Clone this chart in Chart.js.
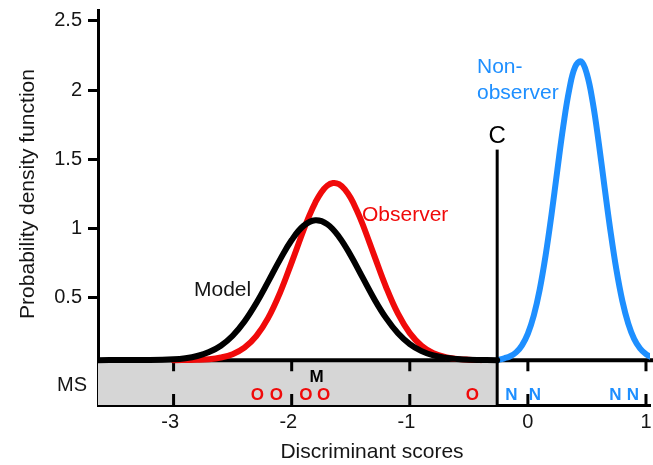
<!DOCTYPE html>
<html>
<head>
<meta charset="utf-8">
<script src="https://cdn.jsdelivr.net/npm/chart.js@4"></script>
<style>
  body { margin: 0; background: #fff; }
  #myChart { display: block; }
</style>
</head>
<body>
<canvas id="myChart" width="653" height="465"></canvas>
<script>
// density curves (x = discriminant score, y = density)
const modelX = [-3.64, -3.2, -3.0, -2.9, -2.8, -2.7, -2.6, -2.5, -2.4, -2.3, -2.2, -2.1, -2.0, -1.9, -1.8, -1.7, -1.6, -1.5, -1.4, -1.3, -1.2, -1.1, -1.0, -0.9, -0.8, -0.7, -0.6, -0.5, -0.26];
const modelY = [0.05, 0.051, 0.056, 0.064, 0.080, 0.108, 0.154, 0.226, 0.329, 0.461, 0.615, 0.774, 0.917, 1.019, 1.060, 1.032, 0.941, 0.805, 0.647, 0.490, 0.353, 0.244, 0.166, 0.115, 0.084, 0.067, 0.058, 0.053, 0.05];

const observerX = [-3.0, -2.8, -2.7, -2.6, -2.5, -2.4, -2.3, -2.2, -2.1, -2.0, -1.9, -1.85, -1.8, -1.75, -1.7, -1.65, -1.6, -1.55, -1.5, -1.45, -1.4, -1.3, -1.2, -1.1, -1.0, -0.9, -0.8, -0.7, -0.6, -0.5, -0.4];
const observerY = [0.05, 0.053, 0.057, 0.069, 0.093, 0.140, 0.223, 0.353, 0.534, 0.756, 0.988, 1.095, 1.188, 1.261, 1.309, 1.329, 1.321, 1.283, 1.220, 1.134, 1.033, 0.803, 0.576, 0.385, 0.245, 0.154, 0.100, 0.072, 0.059, 0.053, 0.05];

const nonObsX = [-0.25, -0.2, -0.15, -0.1, -0.05, 0.0, 0.05, 0.1, 0.15, 0.2, 0.25, 0.3, 0.35, 0.4, 0.45, 0.5, 0.55, 0.6, 0.65, 0.7, 0.75, 0.8, 0.85, 0.9, 0.95, 1.0, 1.05];
const nonObsY = [0.05, 0.063, 0.078, 0.106, 0.157, 0.242, 0.372, 0.559, 0.805, 1.101, 1.426, 1.741, 2.002, 2.167, 2.207, 2.115, 1.908, 1.618, 1.294, 0.978, 0.700, 0.477, 0.314, 0.203, 0.134, 0.093, 0.070];

// MS strip: individual scores and mean
const observerMS = [-2.29, -2.13, -1.88, -1.73, -0.47];
const nonObserverMS = [-0.14, 0.06, 0.74, 0.89];
const msMean = -1.79;
const cutoff = -0.26;
const cutoffTop = 1.57;

const xTicks = [-3, -2, -1, 0, 1];
const yTicks = [0.5, 1, 1.5, 2, 2.5];

const baseLevel = 0.05;
const RED = '#f00a0a';
const BLUE = '#1e8fff';
const FONT = 'Liberation Sans';
const INK = '#151515';

function toPoints(xs, ys) {
    let pts = [];
    for (let i = 0; i < xs.length; i++) {
        pts.push({x: xs[i], y: ys[i]});
    }
    return pts;
}

const stripPlugin = {
    id: 'stripPlugin',
    beforeDatasetsDraw(chart) {
        const {ctx, chartArea, scales} = chart;
        const x = scales.x, y = scales.y;
        const base = y.getPixelForValue(baseLevel);
        const cx = x.getPixelForValue(cutoff);
        ctx.save();
        ctx.fillStyle = '#d6d6d6';
        ctx.fillRect(chartArea.left, base, cx - chartArea.left, chartArea.bottom - base);

        ctx.strokeStyle = '#000';
        ctx.lineWidth = 4;
        ctx.beginPath();
        ctx.moveTo(chartArea.left, base);
        ctx.lineTo(chart.width, base);
        ctx.stroke();

        ctx.lineWidth = 3;
        xTicks.forEach(v => {
            const px = x.getPixelForValue(v);
            ctx.beginPath();
            ctx.moveTo(px, base);
            ctx.lineTo(px, base + 11);
            ctx.moveTo(px, chartArea.bottom);
            ctx.lineTo(px, chartArea.bottom - 11);
            ctx.stroke();
        });
        ctx.restore();
    },
    afterDatasetsDraw(chart) {
        const {ctx, chartArea, scales} = chart;
        const x = scales.x, y = scales.y;
        const cx = x.getPixelForValue(cutoff);
        ctx.save();

        // cutoff line C
        ctx.strokeStyle = '#000';
        ctx.lineWidth = 3;
        ctx.beginPath();
        ctx.moveTo(cx, y.getPixelForValue(cutoffTop));
        ctx.lineTo(cx, chartArea.bottom);
        ctx.stroke();

        ctx.textBaseline = 'middle';
        ctx.textAlign = 'center';
        ctx.fillStyle = '#000';
        ctx.font = '24px "' + FONT + '"';
        ctx.fillText('C', cx, 136);

        // curve labels
        ctx.textAlign = 'left';
        ctx.font = '21px "' + FONT + '"';
        ctx.fillStyle = RED;
        ctx.fillText('Observer', 362, 215);
        ctx.fillStyle = INK;
        ctx.fillText('Model', 194, 290);
        ctx.fillStyle = BLUE;
        ctx.fillText('Non-', 477, 67);
        ctx.fillText('observer', 477, 93);

        ctx.fillStyle = INK;
        ctx.font = '20px "' + FONT + '"';
        ctx.fillText('MS', 57, 385);

        // strip markers
        ctx.textAlign = 'center';
        ctx.font = 'bold 17px "' + FONT + '"';
        ctx.fillStyle = '#000';
        ctx.fillText('M', x.getPixelForValue(msMean), 377);
        ctx.fillStyle = RED;
        observerMS.forEach(v => ctx.fillText('O', x.getPixelForValue(v), 395));
        ctx.fillStyle = BLUE;
        nonObserverMS.forEach(v => ctx.fillText('N', x.getPixelForValue(v), 395));

        // x tick labels, digit centred on the tick
        ctx.fillStyle = INK;
        ctx.font = '20px "' + FONT + '"';
        xTicks.forEach(v => {
            const px = x.getPixelForValue(v);
            const digits = String(Math.abs(v));
            const w = ctx.measureText(digits).width;
            ctx.textAlign = 'center';
            ctx.fillText(digits, px, chartArea.bottom + 17);
            if (v < 0) {
                ctx.textAlign = 'right';
                ctx.fillText('-', px - w / 2, chartArea.bottom + 17);
            }
        });

        // axis titles
        ctx.font = '21px "' + FONT + '"';
        ctx.textAlign = 'center';
        ctx.fillText('Discriminant scores', 372, 452);
        ctx.translate(28, 194);
        ctx.rotate(-Math.PI / 2);
        ctx.fillText('Probability density function', 0, 0);
        ctx.restore();
    }
};

const data = {
    datasets: [
        {label: 'Model', data: toPoints(modelX, modelY), borderColor: '#000', order: 0},
        {label: 'Observer', data: toPoints(observerX, observerY), borderColor: RED, order: 1},
        {label: 'Non-observer', data: toPoints(nonObsX, nonObsY), borderColor: BLUE, order: 2}
    ]
};
data.datasets.forEach(d => {
    d.borderWidth = 6;
    d.pointRadius = 0;
    d.fill = false;
    d.tension = 0.4;
    d.borderCapStyle = 'round';
    d.borderJoinStyle = 'round';
});

const config = {
    type: 'line',
    data,
    options: {
        responsive: false,
        animation: false,
        devicePixelRatio: 1,
        layout: {padding: {top: 10, right: 3, left: 0, bottom: 0}},
        plugins: {legend: {display: false}, tooltip: {enabled: false}},
        scales: {
            x: {
                type: 'linear',
                min: -3.64,
                max: 1.034,
                grid: {display: false, drawTicks: false},
                border: {display: true, color: '#000', width: 3},
                ticks: {display: false},
                afterFit: s => { s.height = 60; }
            },
            y: {
                min: -0.274,
                max: 2.578,
                afterBuildTicks: s => { s.ticks = yTicks.map(v => ({value: v})); },
                grid: {drawOnChartArea: false, drawTicks: true, tickLength: 10, tickWidth: 3, color: '#000'},
                border: {display: true, color: '#000', width: 3},
                ticks: {color: INK, padding: 6, font: {family: FONT, size: 20}, callback: v => String(v)},
                afterFit: s => { s.width = 98; s.paddingTop = 0; s.paddingBottom = 0; }
            }
        }
    },
    plugins: [stripPlugin]
};

var myChart = new Chart(document.getElementById('myChart'), config);
</script>
</body>
</html>
